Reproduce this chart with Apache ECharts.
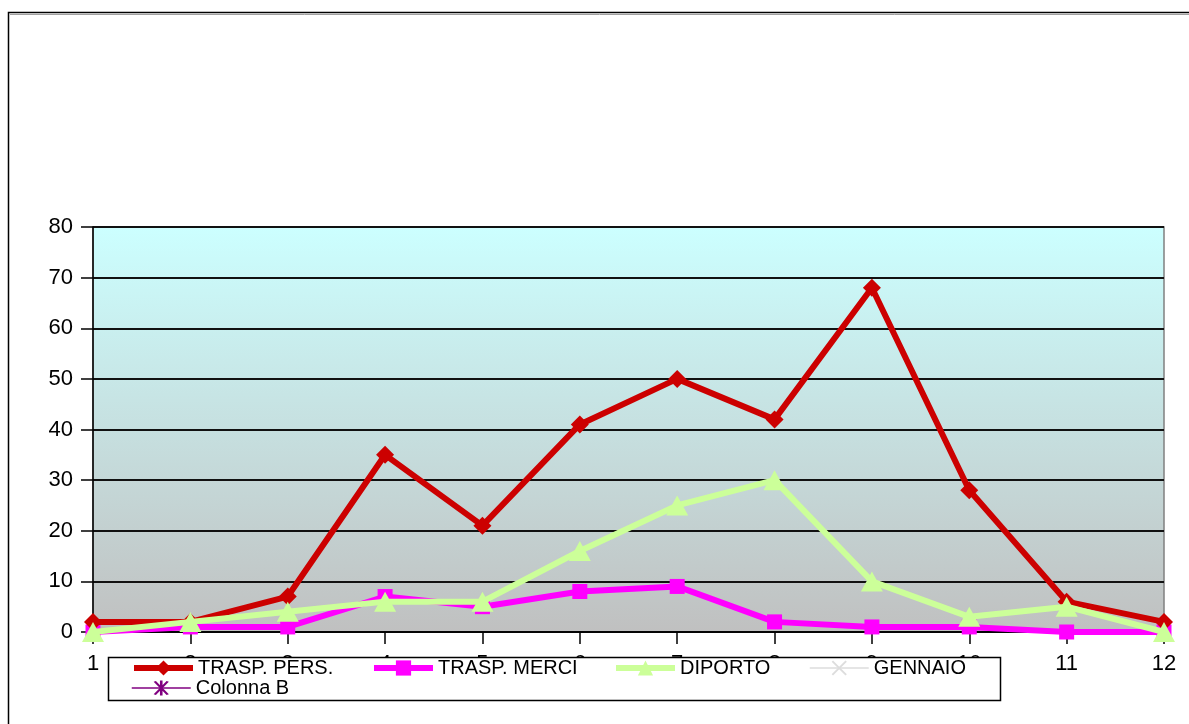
<!DOCTYPE html>
<html>
<head>
<meta charset="utf-8">
<script src="https://cdn.jsdelivr.net/npm/echarts@6/dist/echarts.min.js"></script>
<style>
html,body{margin:0;padding:0;background:#fff;}
#c{width:1189px;height:724px;}
</style>
</head>
<body>
<div id="c"></div>
<script>
var categories = ['1','2','3','4','5','6','7','8','9','10','11','12'];
var yTicks = [0, 80, 10];
var traspPers = [2, 2, 7, 35, 21, 41, 50, 42, 68, 28, 6, 2];
var traspMerci = [0, 1, 1, 7, 5, 8, 9, 2, 1, 1, 0, 0];
var diporto = [0, 2, 4, 6, 6, 16, 25, 30, 10, 3, 5, 0];
var gennaio = [];
var colonnaB = [];
var seriesNames = ['TRASP. PERS.', 'TRASP. MERCI', 'DIPORTO', 'GENNAIO', 'Colonna B'];

var starPath = 'path://M-1,-10L1,-10L1,10L-1,10Z M4.134,9.16L-5.866,-8.16L-4.134,-9.16L5.866,8.16Z M-4.134,9.16L-5.866,8.16L4.134,-9.16L5.866,-8.16Z';
var crossPath = 'path://M6.36,7.78L-7.78,-6.36L-6.36,-7.78L7.78,6.36Z M-6.36,7.78L-7.78,6.36L6.36,-7.78L7.78,-6.36Z';

var chart = echarts.init(document.getElementById('c'));
var font = 'Liberation Sans, Arial, sans-serif';

function mkLegend(name, left, top, lw) {
  return {
    data: [name],
    left: left,
    top: top,
    padding: 0,
    itemWidth: 59,
    itemHeight: 19,
    z: 100,
    selectedMode: false,
    lineStyle: {width: lw},
    textStyle: {fontFamily: font, fontSize: 20, color: '#000', lineHeight: 20}
  };
}

var option = {
  animation: false,
  backgroundColor: '#ffffff',
  graphic: [
    {type: 'rect', z: 1, shape: {x: 8.5, y: 12.5, width: 1400, height: 1000}, style: {fill: 'none', stroke: '#000', lineWidth: 1.5}},
    {type: 'line', z: 1, shape: {x1: 10, y1: 14.5, x2: 1189, y2: 14.5}, style: {stroke: '#a0a0a0', lineWidth: 1}},
    {type: 'rect', z: 50, shape: {x: 108.5, y: 657.5, width: 892, height: 43}, style: {fill: '#fff', stroke: '#000', lineWidth: 1.5}}
  ],
  legend: [
    mkLegend(seriesNames[0], 131, 658, 6),
    mkLegend(seriesNames[1], 371, 658, 6),
    mkLegend(seriesNames[2], 613, 658, 6),
    mkLegend(seriesNames[3], 809, 658, 1.5),
    mkLegend(seriesNames[4], 131, 678, 1.5)
  ],
  grid: {
    left: 93, right: 25, top: 227, bottom: 92,
    show: true,
    borderColor: '#808080',
    borderWidth: 1.5,
    backgroundColor: new echarts.graphic.LinearGradient(0, 0, 0, 1, [
      {offset: 0, color: '#CCFFFF'},
      {offset: 1, color: '#C0C0C0'}
    ])
  },
  xAxis: {
    type: 'category',
    data: categories,
    boundaryGap: false,
    axisLine: {show: true, lineStyle: {color: '#000', width: 1.5}},
    axisTick: {show: true, alignWithLabel: true, length: 12, lineStyle: {color: '#000', width: 1.5}},
    axisLabel: {interval: 0, margin: 21, fontFamily: font, fontSize: 22, color: '#000'},
    splitLine: {show: false}
  },
  yAxis: {
    type: 'value',
    min: yTicks[0],
    max: yTicks[1],
    interval: yTicks[2],
    axisLine: {show: true, lineStyle: {color: '#000', width: 1.5}},
    axisTick: {show: true, length: 12, lineStyle: {color: '#000', width: 1.5}},
    axisLabel: {margin: 20, fontFamily: font, fontSize: 22, color: '#000'},
    splitLine: {show: true, lineStyle: {color: '#111', width: 2}}
  },
  series: [
    {
      name: seriesNames[0], type: 'line', data: traspPers, z: 5,
      symbol: 'diamond', symbolSize: 18,
      lineStyle: {color: '#CC0000', width: 6},
      itemStyle: {color: '#CC0000'}
    },
    {
      name: seriesNames[1], type: 'line', data: traspMerci, z: 4,
      symbol: 'rect', symbolSize: 15,
      lineStyle: {color: '#FF00FF', width: 6},
      itemStyle: {color: '#FF00FF'}
    },
    {
      name: seriesNames[2], type: 'line', data: diporto, z: 6,
      symbol: 'triangle', symbolSize: [22, 20],
      lineStyle: {color: '#CCFF99', width: 6},
      itemStyle: {color: '#CCFF99'}
    },
    {
      name: seriesNames[3], type: 'line', data: gennaio,
      symbol: crossPath, symbolSize: 12,
      lineStyle: {color: '#DDDDDD', width: 1.5},
      itemStyle: {color: '#DDDDDD'}
    },
    {
      name: seriesNames[4], type: 'line', data: colonnaB,
      symbol: starPath, symbolSize: 14,
      lineStyle: {color: '#800080', width: 1.5},
      itemStyle: {color: '#800080'}
    }
  ]
};
chart.setOption(option);
</script>
</body>
</html>
